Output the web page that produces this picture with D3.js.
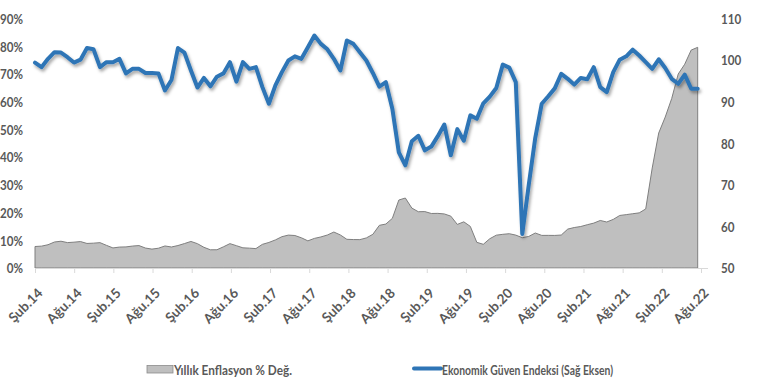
<!DOCTYPE html>
<html>
<head>
<meta charset="utf-8">
<script src="https://cdn.jsdelivr.net/npm/d3@7"></script>
<style>
  html, body { margin: 0; padding: 0; background: #ffffff; }
  svg { display: block; }
  text { font-family: Lato, "Liberation Sans", "DejaVu Sans", sans-serif; font-weight: bold; fill: #595959; }
</style>
</head>
<body>
<svg id="chart" width="765" height="392"></svg>
<script>
// ---- DATA (monthly, Oca.14 .. Tem.22) ----
const monthNames = ["Oca","Şub","Mar","Nis","May","Haz","Tem","Ağu","Eyl","Eki","Kas","Ara"];
const months = [];
for (let y = 14; y <= 22; y++) {
  for (let m = 0; m < 12; m++) {
    if (y === 22 && m > 6) break;
    months.push(monthNames[m] + "." + y);
  }
}

// Yıllık Enflasyon % Değ. (left axis, %)
const inflation = [
  7.75, 7.89, 8.39, 9.38, 9.66, 9.16, 9.32, 9.54, 8.86, 8.96, 9.15, 8.17,
  7.24, 7.55, 7.61, 7.91, 8.09, 7.20, 6.81, 7.14, 7.95, 7.58, 8.10, 8.81,
  9.58, 8.78, 7.46, 6.57, 6.58, 7.64, 8.79, 8.05, 7.28, 7.16, 7.00, 8.53,
  9.22, 10.13, 11.29, 11.87, 11.72, 10.90, 9.79, 10.68, 11.20, 11.90, 12.98, 11.92,
  10.35, 10.26, 10.23, 10.85, 12.15, 15.39, 15.85, 17.90, 24.52, 25.24, 21.62, 20.30,
  20.35, 19.67, 19.71, 19.50, 18.71, 15.72, 16.65, 15.01, 9.26, 8.55, 10.56, 11.84,
  12.15, 12.37, 11.86, 10.94, 11.39, 12.62, 11.76, 11.77, 11.75, 11.89, 14.03, 14.60,
  14.97, 15.61, 16.19, 17.14, 16.59, 17.53, 18.95, 19.25, 19.58, 19.89, 21.31, 36.08,
  48.69, 54.44, 61.14, 69.97, 73.50, 78.62, 79.60
];

// Ekonomik Güven Endeksi (right axis)
const confidence = [
  99.4, 98.3, 100.3, 101.9, 101.8, 100.7, 99.4, 100.1, 102.9, 102.6, 98.3, 99.5,
  99.5, 100.3, 96.8, 97.9, 97.9, 96.9, 96.9, 96.8, 92.7, 95.2, 102.9, 101.8,
  97.5, 93.4, 95.7, 93.7, 96.0, 96.8, 99.5, 94.8, 99.5, 97.9, 98.3, 93.5,
  89.5, 93.9, 97.1, 99.9, 100.9, 100.3, 103.1, 105.9, 103.9, 102.6, 100.3, 97.5,
  104.7, 103.9, 101.9, 99.9, 96.9, 93.6, 94.7, 88.3, 77.8, 74.7, 80.5, 81.8,
  78.3, 79.2, 81.7, 84.5, 77.1, 83.4, 80.6, 86.7, 85.9, 89.6, 91.2, 93.3,
  98.9, 98.2, 94.7, 58.2, 70.0, 81.3, 89.5, 91.3, 93.2, 96.7, 95.5, 94.1,
  95.7, 95.4, 98.3, 93.5, 92.3, 97.1, 100.1, 100.9, 102.5, 101.1, 99.5, 97.9,
  100.2, 98.1, 95.5, 94.3, 96.5, 93.1, 93.1
];

const xTickLabels = ["Şub.14","Ağu.14","Şub.15","Ağu.15","Şub.16","Ağu.16","Şub.17","Ağu.17","Şub.18",
  "Ağu.18","Şub.19","Ağu.19","Şub.20","Ağu.20","Şub.21","Ağu.21","Şub.22","Ağu.22"];
const leftTicks = [0, 0.1, 0.2, 0.3, 0.4, 0.5, 0.6, 0.7, 0.8, 0.9];
const rightTicks = [50, 60, 70, 80, 90, 100, 110];
const seriesNames = ["Yıllık Enflasyon % Değ.", "Ekonomik Güven Endeksi (Sağ Eksen)"];

// ---- CHART ----
const svg = d3.select("#chart");
const plot = { left: 35, right: 697.7, top: 18.5, bottom: 268 };

const x = d3.scaleLinear().domain([0, months.length - 1]).range([plot.left, plot.right]);
const xCat = d3.scalePoint().domain(xTickLabels).range([35, 701]);
const yL = d3.scaleLinear().domain([0, 0.9]).range([plot.bottom, plot.top]);
const yR = d3.scaleLinear().domain([50, 110]).range([plot.bottom, plot.top]);

// condense text horizontally to mimic a narrow (Calibri-like) face
function condense(sel, k) {
  sel.each(function () {
    const w = this.getComputedTextLength();
    d3.select(this).attr("textLength", (w * k).toFixed(2)).attr("lengthAdjust", "spacingAndGlyphs");
  });
}

const defs = svg.append("defs");
const f = defs.append("filter").attr("id", "shadow").attr("x", "-5%").attr("y", "-5%").attr("width", "110%").attr("height", "115%");
f.append("feDropShadow").attr("dx", 1.5).attr("dy", 2.5).attr("stdDeviation", 1.4)
  .attr("flood-color", "#000").attr("flood-opacity", 0.35);

// Area (inflation)
const area = d3.area()
  .x((d, i) => x(i))
  .y0(yL(0))
  .y1(d => yL(d / 100));
svg.append("path")
  .datum(inflation)
  .attr("d", area)
  .attr("fill", "#BFBFBF")
  .attr("stroke", "#7F7F7F")
  .attr("stroke-width", 1)
  .attr("stroke-linejoin", "round");

// X axis
const xAxisG = svg.append("g")
  .attr("transform", `translate(0,${plot.bottom})`)
  .call(d3.axisBottom(xCat).tickSize(5).tickSizeOuter(0));
xAxisG.select(".domain").remove();
xAxisG.insert("line", ":first-child")
  .attr("x1", plot.left).attr("x2", 708)
  .attr("y1", 0.5).attr("y2", 0.5)
  .attr("stroke", "#D9D9D9").attr("stroke-width", 1);
xAxisG.selectAll(".tick line").attr("stroke", "#D9D9D9");
xAxisG.selectAll(".tick text")
  .attr("text-anchor", "end")
  .attr("font-size", 13.5)
  .attr("dy", 0)
  .attr("y", 0)
  .attr("transform", "translate(8,26) rotate(-45)")
  .style("fill", "#595959");

// Left axis
const yLG = svg.append("g")
  .attr("transform", `translate(23,0)`)
  .call(d3.axisLeft(yL).tickValues(leftTicks).tickFormat(d3.format(".0%")).tickSize(0).tickPadding(0));
yLG.select(".domain").remove();
yLG.selectAll("text").attr("font-size", 13.5).attr("dy", "0.36em").style("fill", "#595959").call(condense, 0.86);

// Right axis
const yRG = svg.append("g")
  .attr("transform", `translate(721,0)`)
  .call(d3.axisRight(yR).tickValues(rightTicks).tickSize(0).tickPadding(0));
yRG.select(".domain").remove();
yRG.selectAll("text").attr("font-size", 13.5).attr("dy", "0.36em").style("fill", "#595959").call(condense, 0.86);

// Line (confidence)
const line = d3.line()
  .x((d, i) => x(i))
  .y(d => yR(d));
svg.append("path")
  .datum(confidence)
  .attr("d", line)
  .attr("fill", "none")
  .attr("stroke", "#2E75B6")
  .attr("stroke-width", 4)
  .attr("stroke-linejoin", "round")
  .attr("stroke-linecap", "round")
  .attr("filter", "url(#shadow)");

// Legend
const lg = svg.append("g");
lg.append("rect").attr("x", 147).attr("y", 365.5).attr("width", 26).attr("height", 7.5)
  .attr("fill", "#BFBFBF").attr("stroke", "#8C8C8C").attr("stroke-width", 0.8);
lg.append("text").attr("x", 174).attr("y", 374.5).attr("font-size", 13)
  .attr("textLength", 118).attr("lengthAdjust", "spacingAndGlyphs").text(seriesNames[0]);
lg.append("line").attr("x1", 414).attr("x2", 441).attr("y1", 368.5).attr("y2", 368.5)
  .attr("stroke", "#2E75B6").attr("stroke-width", 4).attr("stroke-linecap", "round");
lg.append("text").attr("x", 442).attr("y", 374.5).attr("font-size", 13)
  .attr("textLength", 171).attr("lengthAdjust", "spacingAndGlyphs").text(seriesNames[1]);
</script>
</body>
</html>
